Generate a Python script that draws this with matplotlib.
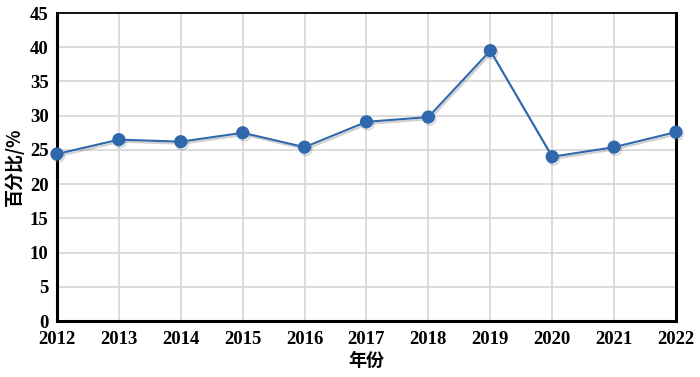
import matplotlib
matplotlib.use("Agg")
import matplotlib.pyplot as plt
import matplotlib.patheffects as pe

years = [2012, 2013, 2014, 2015, 2016, 2017, 2018, 2019, 2020, 2021, 2022]
percent = [24.4, 26.5, 26.2, 27.5, 25.4, 29.1, 29.8, 39.5, 24.0, 25.4, 27.6]
yticks = [0, 5, 10, 15, 20, 25, 30, 35, 40, 45]

LINE = "#2F68AC"
SERIF = ["Liberation Serif", "DejaVu Serif"]
CJK = ["Noto Sans CJK SC", "DejaVu Sans"]

fig = plt.figure(figsize=(7.0, 3.77), dpi=100)
ax = fig.add_axes([0.0814, 0.1485, 0.8843, 0.817])

shadow = [pe.SimpleLineShadow(offset=(1, -1.5), shadow_color="#7a7a7a", alpha=0.35), pe.Normal()]
ax.plot(years, percent, "-o", color=LINE, lw=1.5, ms=8.5, mfc=LINE, mec=LINE,
        path_effects=shadow, zorder=3, clip_on=False)

ax.set_xlim(2012, 2022)
ax.set_ylim(0, 45)
ax.set_xticks(years)
ax.set_yticks(yticks)
ax.grid(True, color="#D6D6D6", lw=1.2)
ax.set_axisbelow(True)
for s in ax.spines.values():
    s.set_color("black")
    s.set_linewidth(1.3)
ax.spines["left"].set_linewidth(2.2)
ax.spines["bottom"].set_linewidth(2.2)
ax.spines["right"].set_linewidth(2.2)
ax.tick_params(length=0, pad=6)
for lab in ax.get_xticklabels() + ax.get_yticklabels():
    lab.set_fontfamily(SERIF)
    lab.set_fontweight("bold")
    lab.set_fontsize(13.5)
ax.tick_params(axis="x", pad=7)

ax.set_xlabel("年份", family=CJK, fontsize=13, fontweight="bold", labelpad=2)
ax.set_ylabel("百分比/%", family=CJK, fontsize=13, fontweight="bold", labelpad=4)

fig.savefig("out.png", dpi=100)
